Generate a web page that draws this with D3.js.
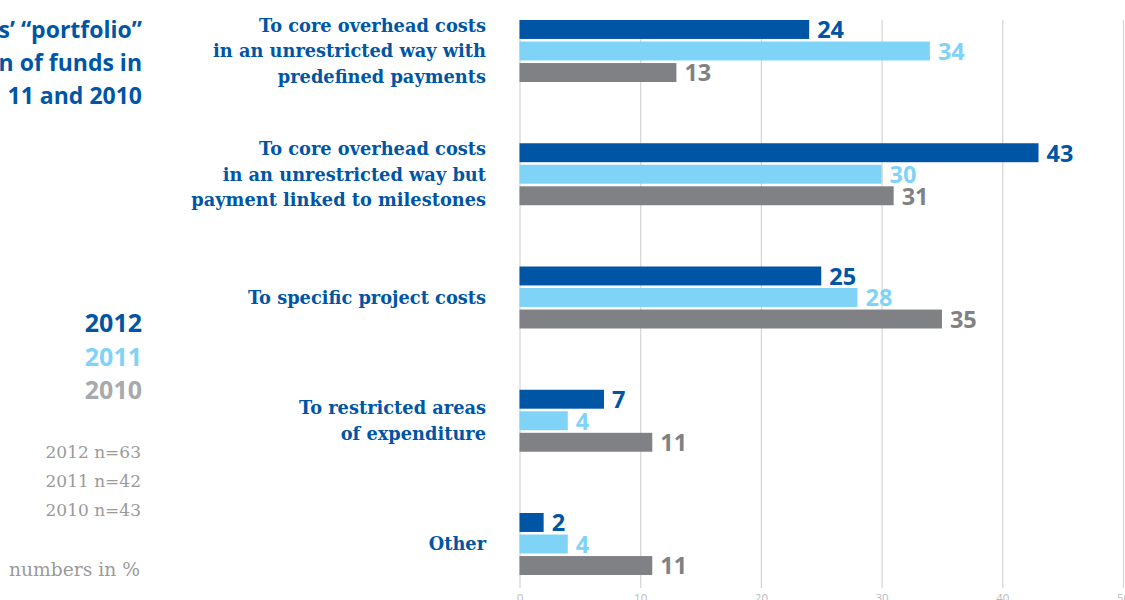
<!DOCTYPE html>
<html><head><meta charset="utf-8">
<script src="https://cdn.jsdelivr.net/npm/d3@7"></script>
<style>
body{margin:0;background:#fff;}
svg{display:block;}
</style></head>
<body>
<script>
const categories = [
  ["To core overhead costs","in an unrestricted way with","predefined payments"],
  ["To core overhead costs","in an unrestricted way but","payment linked to milestones"],
  ["To specific project costs"],
  ["To restricted areas","of expenditure"],
  ["Other"]
];
const years = ["2012","2011","2010"];
const values2012 = [24, 43, 25, 7, 2];
const values2011 = [34, 30, 28, 4, 4];
const values2010 = [13, 31, 35, 11, 11];
const ticks = [0, 10, 20, 30, 40, 50];
const titleLines = ["s\u2019 \u201cportfolio\u201d", "n of funds in", "11 and 2010"];
const sampleLines = ["2012 n=63", "2011 n=42", "2010 n=43"];
const unitNote = "numbers in %";

const colors = {"2012":"#0055a5","2011":"#7fd3f7","2010":"#808185"};
const legendColors = {"2012":"#0055a5","2011":"#7fd3f7","2010":"#a7a9ac"};
const series = {"2012":values2012,"2011":values2011,"2010":values2010};

const W=1125,H=600;
const svg=d3.select("body").append("svg").attr("width",W).attr("height",H);

const x=d3.scaleLinear().domain([0,50]).range([519.5,1123]);
const catIdx=d3.range(categories.length);
const y0=d3.scaleBand().domain(catIdx).range([20,575]).paddingInner(0.497).paddingOuter(0);
const y1=d3.scaleBand().domain(years).range([0,y0.bandwidth()]).paddingInner(0.12);

// grid
const axis=d3.axisBottom(x).tickValues(ticks).tickSize(568).tickPadding(6);
const gAx=svg.append("g").attr("transform","translate(0,20)").call(axis);
gAx.select(".domain").remove();
gAx.selectAll(".tick line").attr("stroke","#d4d4d4").attr("stroke-width",1.2);
gAx.selectAll(".tick text").attr("fill","#bbbbbb").attr("font-family","Open Sans, sans-serif").attr("font-size",11.5);

// bars
const groups=svg.append("g").selectAll("g").data(catIdx).join("g")
  .attr("transform",i=>`translate(0,${y0(i)})`);
groups.selectAll("rect").data(i=>years.map(yr=>({yr,v:series[yr][i]}))).join("rect")
  .attr("x",x(0)).attr("y",d=>y1(d.yr)).attr("width",d=>x(d.v)-x(0)).attr("height",y1.bandwidth())
  .attr("fill",d=>colors[d.yr]);
groups.selectAll("text.val").data(i=>years.map(yr=>({yr,v:series[yr][i]}))).join("text")
  .attr("class","val")
  .attr("x",d=>x(d.v)+8).attr("y",d=>y1(d.yr)+y1.bandwidth()/2).attr("dy","0.38em")
  .attr("fill",d=>colors[d.yr]).attr("font-family","Open Sans, sans-serif").attr("font-weight",700).attr("font-size",23.5)
  .text(d=>d.v);

// category labels
const lh=25.5;
svg.append("g").selectAll("text").data(catIdx).join("text")
  .attr("text-anchor","end").attr("fill","#0055a5")
  .attr("font-family","DejaVu Serif, serif").attr("font-weight",700).attr("font-size",17.8)
  .each(function(i){
    const lines=categories[i];
    const c=y0(i)+y0.bandwidth()/2;
    const t=d3.select(this);
    lines.forEach((l,k)=>{
      t.append("tspan").attr("x",486).attr("y",c+(k-(lines.length-1)/2)*lh).attr("dy","0.36em").text(l);
    });
  });

// title
svg.append("g").selectAll("text").data(titleLines).join("text")
  .attr("x",142).attr("y",(d,i)=>30+i*33).attr("dy","0.36em").attr("text-anchor","end")
  .attr("fill","#0055a5").attr("font-family","Open Sans, sans-serif").attr("font-weight",700).attr("font-size",23)
  .text(d=>d);

// legend
svg.append("g").selectAll("text").data(years).join("text")
  .attr("x",142).attr("y",(d,i)=>323+i*33.5).attr("dy","0.36em").attr("text-anchor","end")
  .attr("fill",d=>legendColors[d]).attr("font-family","Open Sans, sans-serif").attr("font-weight",700).attr("font-size",25)
  .text(d=>d);

svg.append("g").selectAll("text").data(sampleLines).join("text")
  .attr("x",141).attr("y",(d,i)=>452+i*29).attr("dy","0.36em").attr("text-anchor","end")
  .attr("fill","#9a9a9a").attr("font-family","DejaVu Serif, serif").attr("font-size",17)
  .text(d=>d);

svg.append("text").attr("x",140).attr("y",569).attr("dy","0.36em").attr("text-anchor","end")
  .attr("fill","#9a9a9a").attr("font-family","DejaVu Serif, serif").attr("font-size",18.7)
  .text(unitNote);
</script>
</body></html>
